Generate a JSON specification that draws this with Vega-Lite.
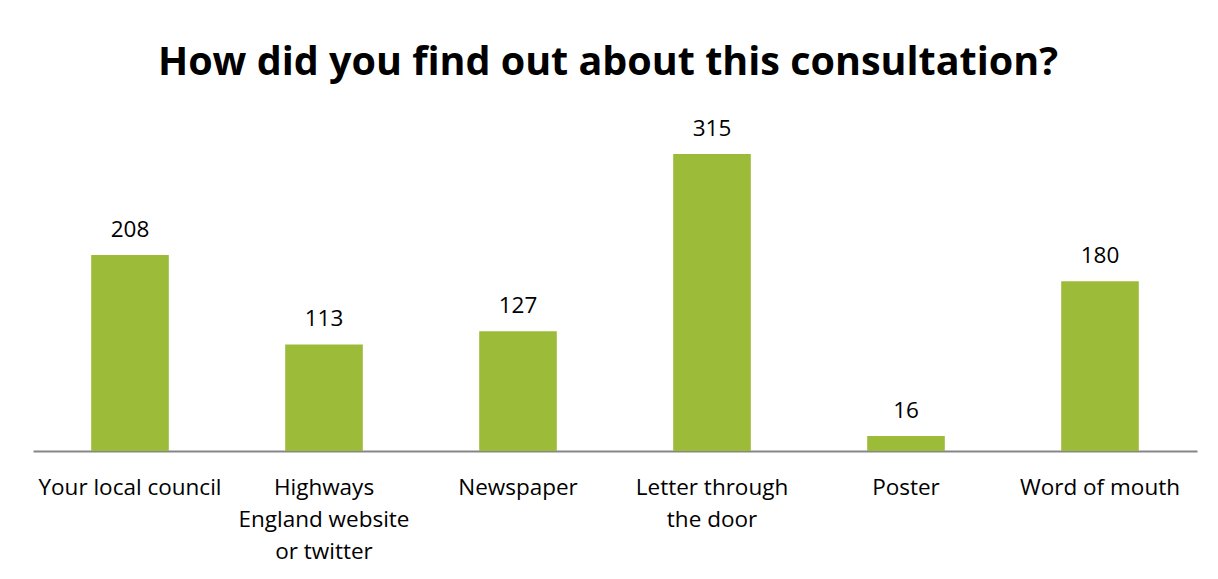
{
  "$schema": "https://vega.github.io/schema/vega-lite/v6.json",
  "autosize": {"type": "none"},
  "width": 1164,
  "height": 330,
  "padding": {"left": 33, "top": 121, "right": 21, "bottom": 128},
  "background": "white",
  "title": {
    "text": "How did you find out about this consultation?",
    "font": "Open Sans",
    "fontSize": 39.5,
    "fontWeight": "bold",
    "color": "#000000",
    "anchor": "middle",
    "baseline": "alphabetic",
    "offset": 4,
    "dx": -7
  },
  "data": {
    "values": [
      {"source": "Your local council", "count": 208},
      {"source": "Highways England website or twitter", "count": 113},
      {"source": "Newspaper", "count": 127},
      {"source": "Letter through the door", "count": 315},
      {"source": "Poster", "count": 16},
      {"source": "Word of mouth", "count": 180}
    ]
  },
  "encoding": {
    "x": {
      "field": "source",
      "type": "nominal",
      "sort": null,
      "scale": {"paddingInner": 0.6, "paddingOuter": 0.3},
      "axis": {
        "title": null,
        "labelAngle": 0,
        "ticks": false,
        "domainColor": "#868686",
        "domainWidth": 2,
        "labelFont": "Open Sans",
        "labelFontSize": 22.5,
        "labelColor": "#000000",
        "labelPadding": 25,
        "labelLineHeight": 32,
        "labelBaseline": "top",
        "labelLimit": 400,
        "labelExpr": "datum.value == 'Highways England website or twitter' ? ['Highways', 'England website', 'or twitter'] : datum.value == 'Letter through the door' ? ['Letter through', 'the door'] : datum.value"
      }
    },
    "y": {
      "field": "count",
      "type": "quantitative",
      "scale": {"domain": [0, 350], "nice": false},
      "axis": null
    }
  },
  "layer": [
    {"mark": {"type": "bar", "color": "#9BBB39"}},
    {
      "mark": {
        "type": "text",
        "baseline": "bottom",
        "dy": -13,
        "font": "Open Sans",
        "fontSize": 22.5,
        "color": "#000000"
      },
      "encoding": {"text": {"field": "count", "type": "quantitative"}}
    }
  ],
  "config": {
    "view": {"stroke": null}
  }
}
